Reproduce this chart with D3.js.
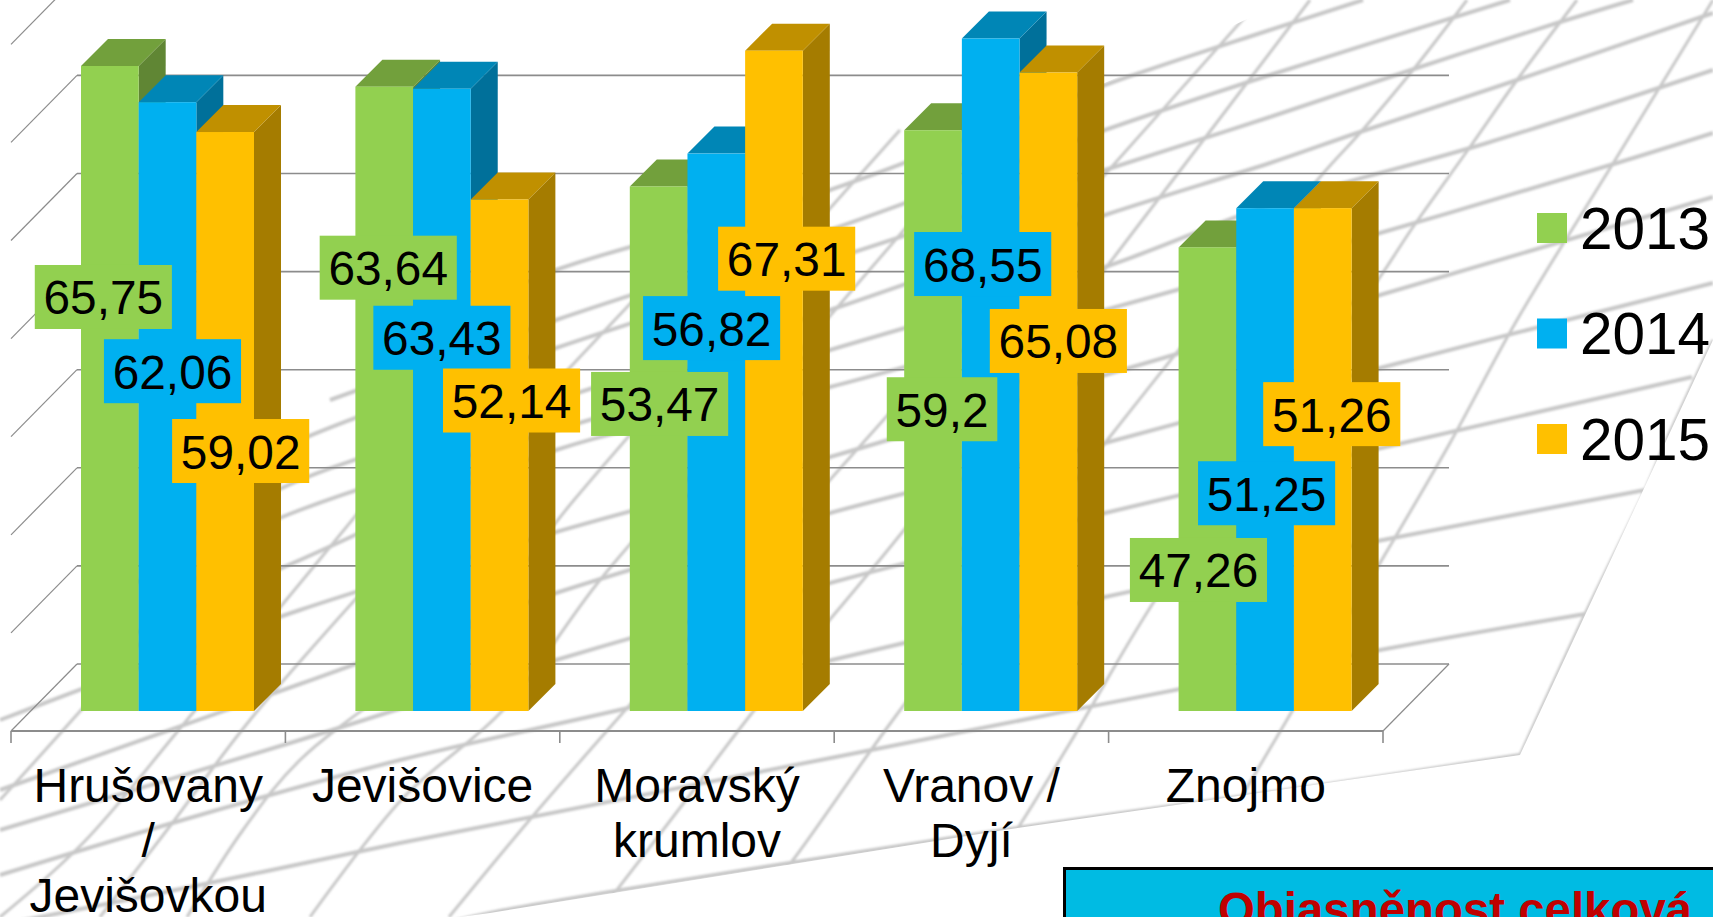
<!DOCTYPE html>
<html>
<head>
<meta charset="utf-8">
<script src="https://cdnjs.cloudflare.com/ajax/libs/d3/7.8.5/d3.min.js"></script>
<style>
    html, body {margin: 0; padding: 0; background: #fff; overflow: hidden;}
    text {font-family: "Liberation Sans", Arial, sans-serif; fill: #000;}
</style>
</head>
<body>
<div id="chart"></div>
<script>
// chart data
const categories = ["Hrušovany / Jevišovkou", "Jevišovice", "Moravský krumlov", "Vranov / Dyjí", "Znojmo"];
const categoryLines = [["Hrušovany", "/", "Jevišovkou"], ["Jevišovice"], ["Moravský", "krumlov"], ["Vranov /", "Dyjí"], ["Znojmo"]];
const years = ["2013", "2014", "2015"];
const values2013 = [65.75, 63.64, 53.47, 59.2, 47.26];
const values2014 = [62.06, 63.43, 56.82, 68.55, 51.25];
const values2015 = [59.02, 52.14, 67.31, 65.08, 51.26];
const valueTicks = [0, 10, 20, 30, 40, 50, 60, 70];

// data labels were dragged by hand in the original, offsets from top centre of the bar
const labelOffsets2013 = [[-6.5, 231], [4, 181], [1, 217.5], [9, 279], [-9, 322.6]];
const labelOffsets2014 = [[5, 269], [0, 249], [-4.7, 174.5], [-8, 225.5], [1.5, 285]];
const labelOffsets2015 = [[15.5, 319], [12, 201], [12.7, 208], [10, 268.4], [9, 206]];

const seriesValues = [values2013, values2014, values2015];
const seriesOffsets = [labelOffsets2013, labelOffsets2014, labelOffsets2015];

const frontColors = ["#92D050", "#00B0F0", "#FFC000"];
const topColors = ["#72A03C", "#0086B6", "#C09000"];
const sideColors = ["#608634", "#00709A", "#A57C00"];

// slide background, the warped mesh picture
const bgShallow = [
    [[1520,755],[1323,785],[1004,830],[490,913],[440,925]],
    [[1585,614],[1380,650],[846,755],[400,843],[200,885],[0,925]],
    [[1645,490],[1393,538],[1105,597],[628,708],[400,760],[200,815],[0,875]],
    [[1692,377],[1403,443],[1105,513],[830,583],[556,660],[300,740],[0,830]],
    [[1713,283],[1380,368],[1105,443],[830,513],[556,593],[300,684],[0,790]],
    [[1713,197],[1380,295],[1105,375],[830,457],[556,532],[300,610],[0,720]],
    [[1713,133],[1617,163],[1380,233],[1105,310],[830,387],[556,450],[300,560],[120,640]],
    [[1713,70],[1487,143],[1270,205],[1105,267],[830,350],[556,430],[300,510],[100,600]],
    [[1713,13],[1517,80],[1357,133],[1270,163],[1105,215],[830,310],[556,400],[300,480],[150,560]],
    [[1633,0],[1557,23],[1420,67],[1270,117],[1105,170],[830,260],[556,348],[300,440],[200,490]],
    [[1510,0],[1270,75],[1105,130],[830,230],[556,320],[330,400]],
    [[1363,0],[1270,30],[1105,85],[830,190],[556,270],[430,325]]
];
const bgSteep = [
    [[1520,755],[1585,614],[1645,490],[1665,443],[1713,340]],
    [[1713,0],[1617,157],[1517,320],[1450,443],[1380,563],[1291,713],[1200,867]],
    [[1577,0],[1517,80],[1470,147],[1413,227],[1380,277],[1155,600],[1070,743],[998,857],[945,917]],
    [[1467,0],[1413,70],[1360,133],[1320,177],[1105,443],[895,717],[793,860],[748,917]],
    [[1310,0],[1150,210],[904,530],[752,713],[686,800],[596,917]],
    [[1260,0],[1100,180],[928,370],[732,590],[628,707],[538,810],[449,917]],
    [[1110,0],[1000,120],[740,420],[600,580],[503,710],[404,797],[310,917]],
    [[900,130],[574,500],[478,620],[300,760],[243,830],[187,917]],
    [[700,230],[400,550],[250,720],[167,830],[100,917]],
    [[500,340],[187,720],[83,843],[0,917]],
    [[300,460],[90,700],[0,800]]
];
const bgOutline = [[0,700],[76,620],[287,423],[325,373],[555,267],[850,130],[1100,85],[1290,0],[1713,0],[1713,340],
    [1520,755],[1004,830],[490,913],[460,917],[0,917]];

let width = 1713, height = 917;

let svg = d3.select("#chart").append("svg")
    .attr("width", width)
    .attr("height", height)
    .style("display", "block");

// draw background
let defs = svg.append("defs");
defs.append("clipPath").attr("id", "bg-clip")
    .append("polygon").attr("points", bgOutline.map(d => d.join(",")).join(" "));
defs.append("filter").attr("id", "bg-blur")
    .append("feGaussianBlur").attr("stdDeviation", 0.9);

let bgLine = d3.line().curve(d3.curveCatmullRom);
let bg = svg.append("g").attr("clip-path", "url(#bg-clip)")
    .append("g").attr("filter", "url(#bg-blur)")
    .attr("fill", "none")
    .attr("stroke", "#c8c8c8");
bg.selectAll(".shallow").data(bgShallow).enter().append("path")
    .attr("class", "shallow")
    .attr("d", bgLine)
    .attr("stroke-width", 4);
bg.selectAll(".steep").data(bgSteep).enter().append("path")
    .attr("class", "steep")
    .attr("d", bgLine)
    .attr("stroke-width", 3);

// scales, the bars stand in the middle of the floor depth
let depthFloor = {x: 66, y: 67};
let depthBar = {x: 27, y: 27};
let barInset = {x: 20, y: 20};

let xScale = d3.scaleBand()
    .domain(categories)
    .range([11, 1383]);
let barGroupWidth = 173;
let seriesScale = d3.scaleBand()
    .domain(years)
    .range([50 + barInset.x, 50 + barInset.x + barGroupWidth]);
let yScale = d3.scaleLinear()
    .domain([0, 70])
    .range([711, 711 - 686.7]);

let axisBase = yScale(0) + barInset.y;
let backY = v => yScale(v) + barInset.y - depthFloor.y;

// grid lines on back and left wall
let grid = svg.append("g").attr("stroke", "#8c8c8c").attr("fill", "none");
grid.selectAll(".grid-back").data(valueTicks.filter(d => d < 70)).enter().append("line")
    .attr("class", "grid-back")
    .attr("x1", 11 + depthFloor.x)
    .attr("x2", 1383 + depthFloor.x)
    .attr("y1", d => backY(d))
    .attr("y2", d => backY(d))
    .attr("stroke-width", 1.6);
grid.selectAll(".grid-wall").data(valueTicks).enter().append("line")
    .attr("class", "grid-wall")
    .attr("x1", 11)
    .attr("x2", 11 + depthFloor.x)
    .attr("y1", d => backY(d) + depthFloor.y)
    .attr("y2", d => backY(d))
    .attr("stroke-width", 1.2);
grid.append("line")
    .attr("x1", 1383)
    .attr("x2", 1383 + depthFloor.x)
    .attr("y1", axisBase)
    .attr("y2", axisBase - depthFloor.y)
    .attr("stroke-width", 1.2);

// bottom axis with ticks on the band edges
grid.append("line")
    .attr("x1", 11)
    .attr("x2", 1383)
    .attr("y1", axisBase)
    .attr("y2", axisBase)
    .attr("stroke-width", 2);
let tickPos = categories.map(d => xScale(d)).concat([xScale.range()[1]]);
grid.selectAll(".tick").data(tickPos).enter().append("line")
    .attr("class", "tick")
    .attr("x1", d => d)
    .attr("x2", d => d)
    .attr("y1", axisBase)
    .attr("y2", axisBase + 12)
    .attr("stroke-width", 1.6);

// category labels
categories.forEach((c, i) => {
    svg.append("text")
        .attr("text-anchor", "middle")
        .attr("font-size", 48)
        .selectAll("tspan")
        .data(categoryLines[i])
        .enter().append("tspan")
        .attr("x", xScale(c) + xScale.bandwidth() / 2)
        .attr("y", (d, k) => 802 + k * 55)
        .text(d => d);
});

// bars, each with side, top and front face
let barWidth = seriesScale.bandwidth();
let bars = svg.append("g");
let barData = [];
categories.forEach((c, i) => {
    years.forEach((yr, s) => {
        barData.push({cat: c, year: yr, s: s, value: seriesValues[s][i], offset: seriesOffsets[s][i]});
    });
});

barData.forEach(d => {
    let x0 = xScale(d.cat) + seriesScale(d.year);
    let x1 = x0 + barWidth;
    let top = yScale(d.value);
    let base = yScale(0);

    bars.append("polygon")
        .attr("points", [[x1, top], [x1 + depthBar.x, top - depthBar.y], [x1 + depthBar.x, base - depthBar.y], [x1, base]].join(" "))
        .attr("fill", sideColors[d.s]);
    bars.append("polygon")
        .attr("points", [[x0, top], [x0 + depthBar.x, top - depthBar.y], [x1 + depthBar.x, top - depthBar.y], [x1, top]].join(" "))
        .attr("fill", topColors[d.s]);
    bars.append("rect")
        .attr("x", x0)
        .attr("y", top)
        .attr("width", barWidth)
        .attr("height", base - top)
        .attr("fill", frontColors[d.s]);
});

// data labels on coloured boxes, decimal comma
let labels = svg.append("g");
barData.forEach(d => {
    let cx = xScale(d.cat) + seriesScale(d.year) + barWidth / 2 + d.offset[0];
    let cy = yScale(d.value) + d.offset[1];
    let box = labels.append("rect").attr("fill", frontColors[d.s]);
    let txt = labels.append("text")
        .attr("x", cx)
        .attr("y", cy + 17.5)
        .attr("text-anchor", "middle")
        .attr("font-size", 47.8)
        .text(String(d.value).replace(".", ","));
    let w = txt.node().getComputedTextLength() + 17.5;
    box.attr("x", cx - w / 2)
        .attr("y", cy - 32)
        .attr("width", w)
        .attr("height", 64);
});

// legend
let legend = svg.append("g");
years.forEach((yr, i) => {
    let rowY = 213 + i * 105.5;
    legend.append("rect")
        .attr("x", 1537)
        .attr("y", rowY)
        .attr("width", 30)
        .attr("height", 30)
        .attr("fill", frontColors[i]);
    legend.append("text")
        .attr("x", 1580)
        .attr("y", rowY + 35.5)
        .attr("font-size", 58.5)
        .text(yr);
});

// caption box, cut by the bottom of the picture
svg.append("rect")
    .attr("x", 1064.5)
    .attr("y", 868.5)
    .attr("width", 700)
    .attr("height", 100)
    .attr("fill", "#00BBE3")
    .attr("stroke", "#000")
    .attr("stroke-width", 3);
svg.append("text")
    .attr("x", 1218)
    .attr("y", 926)
    .attr("font-size", 47.4)
    .attr("font-weight", "bold")
    .style("fill", "#C00000")
    .text("Objasněnost celková");
</script>
</body>
</html>
